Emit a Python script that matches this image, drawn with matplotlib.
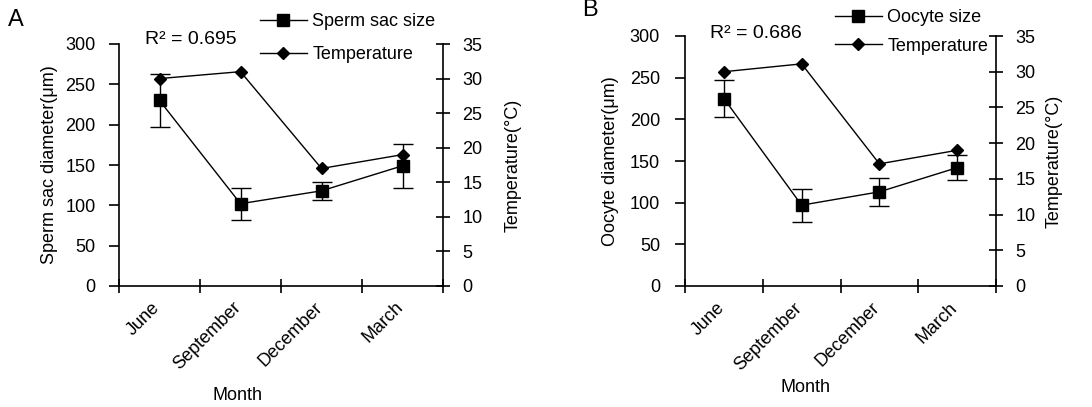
import matplotlib.pyplot as plt
from matplotlib.lines import Line2D
import numpy as np

plt.rcParams['font.family'] = ['Liberation Sans', 'DejaVu Sans']
plt.rcParams['font.size'] = 13

months = ['June', 'September', 'December', 'March']

# panel A
sperm_sac = [230, 102, 118, 149]
sperm_err = [33, 20, 11, 27]
temp_a = [30, 31, 17, 19]
r2_a = 'R² = 0.695'

# panel B
oocyte = [225, 97, 113, 142]
oocyte_err = [22, 20, 17, 15]
temp_b = [30, 31.1, 17.1, 19]
r2_b = 'R² = 0.686'

fig = plt.figure(figsize=(10.92, 4.07), dpi=100)
W, H = 1092, 407


def panel(rect, size, err, temp, ylabel, size_name, r2, letter, letter_xy, r2_xy, leg_xy, month_xy, pads):
    x0, y0, x1, y1 = rect
    ax = fig.add_axes([x0 / W, 1 - y1 / H, (x1 - x0) / W, (y1 - y0) / H])
    ax2 = ax.twinx()
    x = np.arange(len(months)) + 0.5

    ax.errorbar(x, size, yerr=err, color='black', marker='s', markersize=9,
                lw=1, elinewidth=1, capsize=7, capthick=1)
    ax2.plot(x, temp, color='black', marker='D', markersize=6, lw=1)

    ax.set_xlim(0, 4)
    ax.set_ylim(0, 300)
    ax.set_yticks(range(0, 301, 50))
    ax2.set_ylim(0, 35)
    ax2.set_yticks(range(0, 36, 5))
    ax.set_xticks(range(0, 5))
    ax.set_xticklabels([])
    for i, m in enumerate(months):
        ax.text(i + 0.55, -16, m, rotation=45, ha='right', va='top', fontsize=13)

    for a in (ax, ax2):
        a.spines['top'].set_visible(False)
        for s in a.spines.values():
            s.set_linewidth(1.2)
    ax.spines['right'].set_visible(False)
    ax2.spines['left'].set_visible(False)
    ax2.spines['bottom'].set_visible(False)
    ax.tick_params(axis='y', direction='out', length=7, width=1.2, labelsize=13, pad=pads[0])
    ax.tick_params(axis='x', direction='inout', length=10, width=1.2)
    ax2.tick_params(axis='y', direction='inout', length=10, width=1.2, labelsize=13, pad=pads[1])

    ax.set_ylabel(ylabel, fontsize=13, labelpad=pads[2])
    ax2.set_ylabel('Temperature(°C)', fontsize=13, labelpad=pads[3])

    fig.text(letter_xy[0] / W, 1 - letter_xy[1] / H, letter, fontsize=17, ha='left', va='center')
    fig.text(r2_xy[0] / W, 1 - r2_xy[1] / H, r2, fontsize=14, ha='left', va='center')
    fig.text(month_xy[0] / W, 1 - month_xy[1] / H, 'Month', fontsize=13, ha='center', va='center')
    h1 = Line2D([], [], color='black', marker='s', markersize=9, lw=1)
    h2 = Line2D([], [], color='black', marker='D', markersize=6, lw=1)
    fig.legend([h1, h2], [size_name, 'Temperature'], loc='upper left',
               bbox_to_anchor=(leg_xy[0] / W, 1 - leg_xy[1] / H), frameon=False,
               fontsize=13, handlelength=2.6, handletextpad=0.3, labelspacing=leg_xy[2],
               borderaxespad=0, borderpad=0)
    return ax, ax2


panel((119, 44, 443, 286), sperm_sac, sperm_err, temp_a, 'Sperm sac diameter(μm)',
      'Sperm sac size', r2_a, 'A', (8, 20), (145, 40), (260, 13, 0.9), (237, 395),
      (10, 9, 5, 16))
panel((685, 36, 996, 286), oocyte, oocyte_err, temp_b, 'Oocyte diameter(μm)',
      'Oocyte size', r2_b, 'B', (582, 10), (710, 33), (835, 9, 0.65), (806, 387),
      (11, 9, 8, 7))

fig.savefig('out.png', dpi=100)
